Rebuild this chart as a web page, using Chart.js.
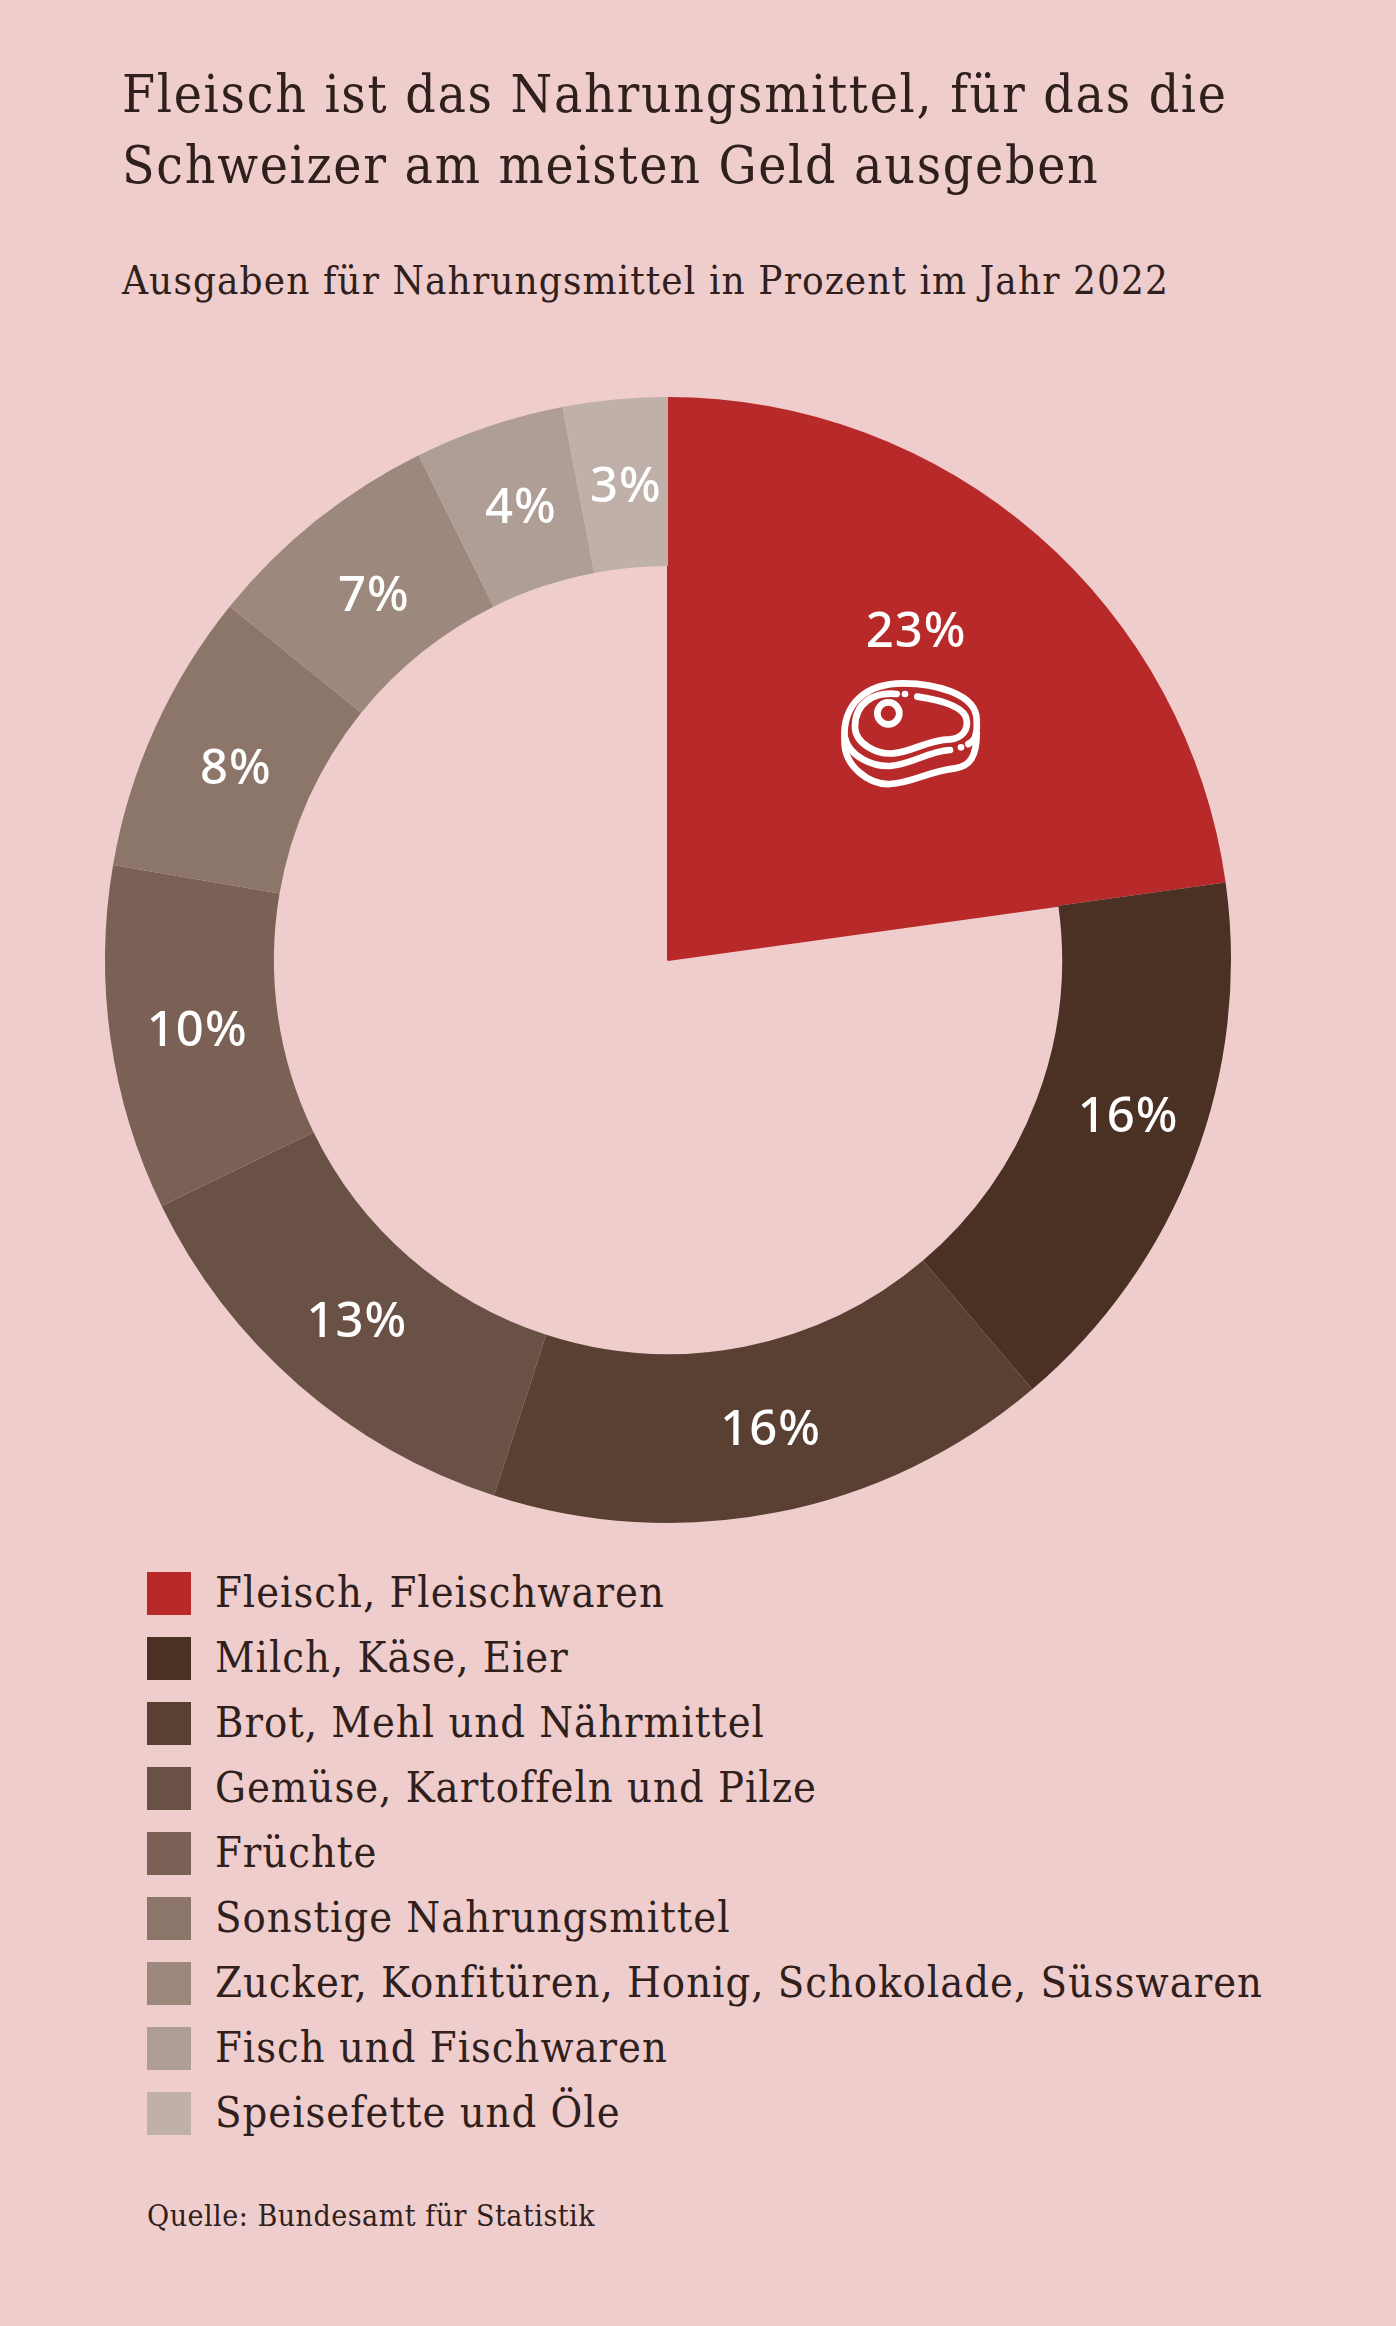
<!DOCTYPE html>
<html lang="de">
<head>
<meta charset="utf-8">
<title>Ausgaben für Nahrungsmittel</title>
<script src="https://cdn.jsdelivr.net/npm/chart.js@4/dist/chart.umd.min.js"></script>
<style>
html, body { margin: 0; padding: 0; background: #efcdcd; }
#page { position: relative; width: 1396px; height: 2326px; overflow: hidden; background: #efcdcd; color: #2f201b; font-family: "DejaVu Serif Condensed", "DejaVu Serif", serif; font-weight: 300; }
#title { position: absolute; left: 122px; top: 58px; font-size: 53px; letter-spacing: 1.7px; line-height: 71px; white-space: nowrap; }
#subtitle { position: absolute; left: 122px; top: 255px; font-size: 40px; letter-spacing: 1.1px; line-height: 50px; white-space: nowrap; }
#wrap { position: absolute; left: 98px; top: 390px; }
#meat { position: absolute; left: 780px; top: 580px; width: 240px; height: 240px; }
#legend { position: absolute; left: 147px; top: 1572px; }
.row { position: relative; height: 65px; }
.box { position: absolute; left: 0; top: 0; width: 44px; height: 43px; }
.txt { position: absolute; left: 68px; top: -7px; font-size: 43px; letter-spacing: 1px; line-height: 54px; white-space: nowrap; }
#source { position: absolute; left: 147px; top: 2197px; font-size: 30px; letter-spacing: 0.5px; line-height: 38px; white-space: nowrap; }
</style>
</head>
<body>
<div id="page">
  <div id="title">Fleisch ist das Nahrungsmittel, für das die<br>Schweizer am meisten Geld ausgeben</div>
  <div id="subtitle">Ausgaben für Nahrungsmittel in Prozent im Jahr 2022</div>
  <div id="wrap"><canvas id="chart" width="1140" height="1140"></canvas></div>
  <svg id="meat" viewBox="0 0 720 720" fill="none" stroke="#fff" stroke-width="20" stroke-linecap="round" stroke-linejoin="round">
    <path d="M194 480C186 370 260 310 370 310C460 310 590 340 590 420C592 450 590 470 578 485"/>
    <path d="M194 480C190 560 270 615 330 612C400 608 450 572 525 565C570 558 590 530 590 460"/>
    <path d="M194 470C205 530 280 560 330 558C400 552 440 515 510 510"/>
    <path d="M350 342C280 335 225 370 225 440C225 490 290 525 340 520C400 515 440 480 510 478C545 475 565 450 560 420C555 380 480 360 412 350"/>
    <path d="M565 492C572 488 578 484 582 478"/>
    <circle cx="325" cy="400" r="33"/>
    <circle cx="375" cy="342" r="10" fill="#fff" stroke="none"/>
    <circle cx="543" cy="502" r="10" fill="#fff" stroke="none"/>
  </svg>
  <div id="legend"></div>
  <div id="source">Quelle: Bundesamt für Statistik</div>
</div>
<script>
const categories = [
    'Fleisch, Fleischwaren',
    'Milch, Käse, Eier',
    'Brot, Mehl und Nährmittel',
    'Gemüse, Kartoffeln und Pilze',
    'Früchte',
    'Sonstige Nahrungsmittel',
    'Zucker, Konfitüren, Honig, Schokolade, Süsswaren',
    'Fisch und Fischwaren',
    'Speisefette und Öle'
];
const shares = [22.8, 16, 16.2, 12.8, 9.9, 8.1, 6.9, 4.3, 3];
const colours = ['#b82a2a', '#4b3024', '#5a4033', '#6a5145', '#7b6155', '#8c7569', '#9d887d', '#ae9e95', '#bfb0a9'];

// the labels do not sit exactly in the middle of their slice
const labelNudge = [[-66, 34], [13, -13], [10, 2], [3, 2], [3, 5], [4, 7], [5, 11], [5, 3], [3, 4]];

const legend = document.getElementById('legend');
categories.forEach((name, i) => {
    const row = document.createElement('div');
    row.className = 'row';
    const box = document.createElement('div');
    box.className = 'box';
    box.style.background = colours[i];
    const txt = document.createElement('div');
    txt.className = 'txt';
    txt.textContent = name;
    row.appendChild(box);
    row.appendChild(txt);
    legend.appendChild(row);
});

const percentLabels = {
    id: 'percentLabels',
    afterDatasetsDraw(chart) {
        const ctx = chart.ctx;
        const arcs = chart.getDatasetMeta(0).data;
        ctx.save();
        ctx.fillStyle = '#fff';
        ctx.font = '500 49px "Noto Sans"';
        ctx.letterSpacing = '1px';
        ctx.textAlign = 'center';
        ctx.textBaseline = 'middle';
        arcs.forEach((arc, i) => {
            const p = arc.getCenterPoint();
            ctx.fillText(Math.round(shares[i]) + '%', p.x + labelNudge[i][0], p.y + labelNudge[i][1]);
        });
        ctx.restore();
    }
};

// outer ring has every category, the inner ring only the red wedge
new Chart('chart', {
    type: 'doughnut',
    data: {
        labels: categories,
        datasets: [{
            data: shares,
            backgroundColor: colours,
            borderWidth: 0,
            weight: 30
        }, {
            data: shares,
            backgroundColor: colours.map((c, i) => i === 0 ? c : 'transparent'),
            borderColor: colours.map((c, i) => i === 0 ? c : 'transparent'),
            borderWidth: 2,
            weight: 70
        }]
    },
    options: {
        responsive: false,
        animation: false,
        cutout: 0,
        layout: { padding: 7 },
        plugins: {
            legend: { display: false },
            tooltip: { enabled: false }
        }
    },
    plugins: [percentLabels]
});
</script>
</body>
</html>
